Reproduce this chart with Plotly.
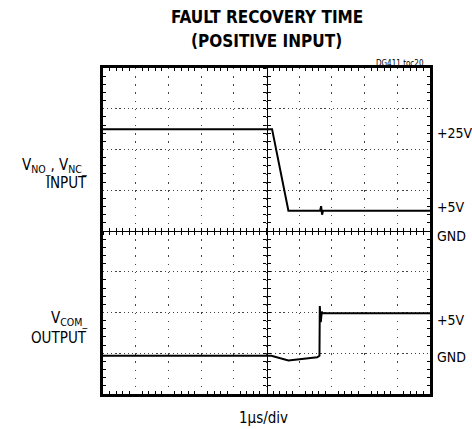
import plotly.graph_objects as go

# --- data (time in microseconds, voltage in volts) ---
time_in = [0.0, 5.17, 5.67, 6.64, 6.67, 6.70, 6.73, 10.0]
volt_in = [25.0, 25.0, 5.0, 5.0, 6.1, 4.0, 5.0, 5.0]

time_out = [0.0, 5.15, 5.67, 6.55, 6.62, 6.63, 6.66, 6.69, 6.72, 10.0]
volt_out = [-0.3, -0.3, -0.9, -0.5, -0.3, 5.8, 3.8, 5.1, 4.9, 4.9]

x_range = [0, 10]          # 1 us/div, 10 divisions
y_in_range = [-40, 40]     # 10 V/div, GND at centre
y_out_range = [-5, 35]     # 5 V/div, GND one division above bottom

FONT = "Liberation Sans Narrow, DejaVu Sans Condensed, Roboto, sans-serif"
L, R, T, B = 103, 42, 68, 35
W, H = 472, 429
PW, PH = W - L - R, H - T - B

def px(xp):
    return (xp - L) / PW

def py(yp):
    return (H - B - yp) / PH

fig = go.Figure()
fig.add_trace(go.Scatter(x=time_in, y=volt_in, mode="lines",
                         line=dict(color="black", width=2), xaxis="x", yaxis="y",
                         hoverinfo="skip", showlegend=False))
fig.add_trace(go.Scatter(x=time_out, y=volt_out, mode="lines",
                         line=dict(color="black", width=2), xaxis="x", yaxis="y2",
                         hoverinfo="skip", showlegend=False))
for xa, ya in [("x2", "y"), ("x3", "y"), ("x", "y3"), ("x", "y4")]:
    fig.add_trace(go.Scatter(x=[None], y=[None], xaxis=xa, yaxis=ya,
                             showlegend=False, hoverinfo="skip"))

frame = dict(showline=True, mirror="allticks", linewidth=3, linecolor="black",
             showticklabels=False, zeroline=False, fixedrange=True,
             ticks="", gridcolor="#444", gridwidth=1.4)

center = dict(showline=True, linewidth=1.2, linecolor="black", showgrid=False,
              zeroline=False, showticklabels=False, ticklen=3, tickwidth=1,
              tickcolor="black", fixedrange=True)

fig.update_layout(
    width=W, height=H, margin=dict(l=L, r=R, t=T, b=B),
    paper_bgcolor="white", plot_bgcolor="white",
    xaxis=dict(range=x_range, dtick=1, griddash="1.4px,6.75px",
               minor=dict(dtick=0.2, ticks="inside", ticklen=3, tickcolor="black", showgrid=False),
               **frame),
    yaxis=dict(range=y_in_range, dtick=10, griddash="1.2px,2.9px",
               minor=dict(dtick=2, ticks="inside", ticklen=3, tickcolor="black", showgrid=False),
               **frame),
    yaxis2=dict(range=y_out_range, overlaying="y", visible=False, fixedrange=True),
    xaxis2=dict(range=x_range, overlaying="x", anchor="free", position=0.5,
                ticks="outside", dtick=0.2, **center),
    xaxis3=dict(range=x_range, overlaying="x", anchor="free", position=0.5,
                ticks="inside", dtick=0.2, **center),
    yaxis3=dict(range=y_in_range, overlaying="y", anchor="free", position=0.5,
                ticks="outside", dtick=2, **center),
    yaxis4=dict(range=y_in_range, overlaying="y", anchor="free", position=0.5,
                ticks="inside", dtick=2, **center),
)

def ann(text, x, y, size=15, xanchor="center"):
    fig.add_annotation(text=text, x=x, y=y, xref="paper", yref="paper",
                       xanchor=xanchor, yanchor="middle", showarrow=False,
                       font=dict(family=FONT, size=size, color="black"))

ann("<b>FAULT RECOVERY TIME</b>", px(266.5), py(17), size=17)
ann("<b>(POSITIVE INPUT)</b>", px(266.5), py(41), size=17)
ann("DG411 toc20", px(426), py(63), size=8, xanchor="right")

ann("V<sub>NO_</sub>, V<sub>NC_</sub>", px(89), py(166), xanchor="right")
ann("INPUT", px(89), py(183), xanchor="right")
ann("V<sub>COM_</sub>", px(89), py(319), xanchor="right")
ann("OUTPUT", px(89), py(338), xanchor="right")

ann("+25V", px(435), py(133), size=14, xanchor="left")
ann("+5V", px(435), py(207), size=14, xanchor="left")
ann("GND", px(435), py(236), size=14, xanchor="left")
ann("+5V", px(435), py(320), size=14, xanchor="left")
ann("GND", px(435), py(357), size=14, xanchor="left")

ann("1µs/div", px(263), py(418))

fig.write_html("out.html", config={"displayModeBar": False},
               post_script="document.body.style.margin='0';document.body.style.overflow='hidden';")
